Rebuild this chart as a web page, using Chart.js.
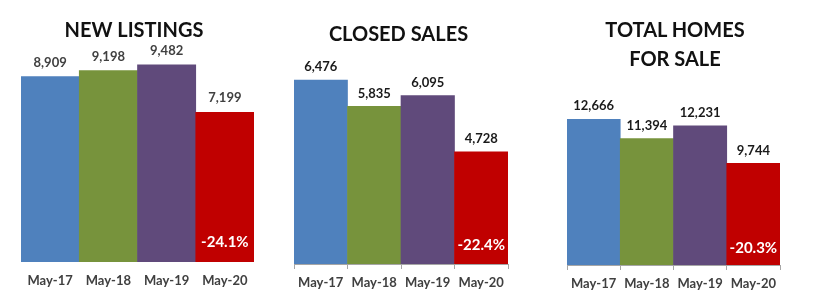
<!DOCTYPE html>
<html>
<head>
<meta charset="utf-8">
<script src="https://cdn.jsdelivr.net/npm/chart.js@4.4.1/dist/chart.umd.min.js"></script>
<style>
    body { margin: 0; background: #fff; width: 826px; height: 300px; overflow: hidden; position: relative; font-family: Lato, 'Open Sans', sans-serif; }
    .panel { position: absolute; top: 0; height: 300px; }
    .panel canvas { position: absolute; left: 0; top: 0; }
    .title { position: absolute; left: 0; text-align: center; font-weight: bold; font-size: 20px; line-height: 29px; color: #111; z-index: 1; }
</style>
</head>
<body>
<div class="panel" style="left:0;width:280px">
    <div class="title" style="top:14.5px;width:268px">NEW LISTINGS</div>
    <canvas id="listingsChart" width="280" height="300"></canvas>
</div>
<div class="panel" style="left:280px;width:270px">
    <div class="title" style="top:18.7px;width:237px">CLOSED SALES</div>
    <canvas id="closedChart" width="270" height="300"></canvas>
</div>
<div class="panel" style="left:550px;width:276px">
    <div class="title" style="top:14.7px;width:250px">TOTAL HOMES<br>FOR SALE</div>
    <canvas id="homesChart" width="276" height="300"></canvas>
</div>
<script>
// Data
const months = ['May-17', 'May-18', 'May-19', 'May-20'];
const newListings = [8909, 9198, 9482, 7199];
const closedSales = [6476, 5835, 6095, 4728];
const homesForSale = [12666, 11394, 12231, 9744];
const yearChange = [-24.1, -22.4, -20.3]; // listings, closed, homes (May-20 vs May-19)

const barColors = ['#4F81BD', '#77933C', '#604A7B', '#C00000'];

Chart.defaults.font.family = 'Lato, "Open Sans", sans-serif';
Chart.defaults.animation = false;

// Draws the value above each bar and the change inside the last bar
const barLabels = {
    id: 'barLabels',
    afterDatasetsDraw(chart, args, opts) {
        const ctx = chart.ctx;
        const meta = chart.getDatasetMeta(0);
        const values = chart.data.datasets[0].data;
        const bottom = chart.chartArea.bottom;
        ctx.save();
        ctx.textAlign = 'center';
        ctx.textBaseline = 'middle';
        ctx.font = 'bold 13px Lato, sans-serif';
        ctx.fillStyle = opts.color;
        meta.data.forEach((bar, i) => {
            ctx.fillText(values[i].toLocaleString('en-US'), bar.x, bar.y - opts.offset);
        });
        const last = meta.data[meta.data.length - 1];
        ctx.font = 'bold 15px Lato, sans-serif';
        ctx.fillStyle = '#fff';
        ctx.fillText(opts.change.toFixed(1) + '%', last.x, bottom - opts.changeOffset);
        ctx.restore();
    }
};

function makeChart(id, values, change, cfg) {
    const ctx = document.getElementById(id).getContext('2d');
    return new Chart(ctx, {
        type: 'bar',
        data: {
            labels: months,
            datasets: [{
                data: values,
                backgroundColor: barColors,
                borderWidth: 0,
                barPercentage: 1,
                categoryPercentage: 1
            }]
        },
        options: {
            responsive: false,
            devicePixelRatio: 1,
            layout: {
                padding: { left: cfg.left, right: cfg.right, top: cfg.top, bottom: 0 }
            },
            plugins: {
                legend: { display: false },
                tooltip: { enabled: false },
                barLabels: {
                    color: cfg.labelColor,
                    offset: cfg.labelOffset,
                    change: change,
                    changeOffset: cfg.changeOffset
                }
            },
            scales: {
                x: {
                    grid: {
                        display: cfg.axis,
                        drawOnChartArea: false,
                        drawTicks: cfg.axis,
                        tickLength: 5,
                        color: '#A6A6A6'
                    },
                    border: { display: cfg.axis, color: '#A6A6A6' },
                    ticks: {
                        color: '#404040',
                        padding: cfg.tickPadding,
                        font: { size: 13, weight: 'bold' }
                    },
                    afterFit(scale) {
                        scale.height = cfg.axisHeight;
                    }
                },
                y: {
                    display: false,
                    min: cfg.min,
                    max: cfg.max
                }
            }
        },
        plugins: [barLabels]
    });
}

makeChart('listingsChart', newListings, yearChange[0], {
    left: 21, right: 26, top: 54, axisHeight: 38, min: 0, max: 10000,
    axis: false, tickPadding: 11, labelColor: '#404040', labelOffset: 14, changeOffset: 20
});
makeChart('closedChart', closedSales, yearChange[1], {
    left: 14, right: 42, top: 58.5, axisHeight: 36, min: 2000, max: 7000,
    axis: true, tickPadding: 6, labelColor: '#1a1a1a', labelOffset: 13, changeOffset: 19
});
makeChart('homesChart', homesForSale, yearChange[2], {
    left: 17, right: 46, top: 99.2, axisHeight: 35, min: 3000, max: 14000,
    axis: true, tickPadding: 6, labelColor: '#1a1a1a', labelOffset: 13, changeOffset: 17
});
</script>
</body>
</html>
